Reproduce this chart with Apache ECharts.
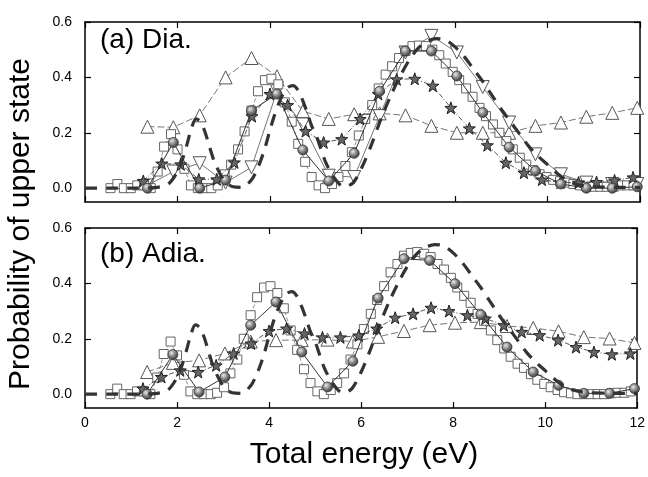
<!DOCTYPE html>
<html>
<head>
<meta charset="utf-8">
<script src="https://cdn.jsdelivr.net/npm/echarts@6/dist/echarts.min.js"></script>
<style>
html,body{margin:0;padding:0;background:#fff;}
#chart{width:648px;height:477px;}
</style>
</head>
<body>
<div id="chart"></div>
<script>
// ---------- data ----------
const xTicks = [0, 2, 4, 6, 8, 10, 12];
const yTicks = [0.0, 0.2, 0.4, 0.6];

// exact (dashed) curve, same in both panels
const energyDash = [0,0.5,1.0,1.5,1.8,2.0,2.1,2.2,2.3,2.4,2.5,2.6,2.7,2.8,3.0,3.2,3.4,3.6,3.7,3.8,3.9,4.0,4.1,4.2,4.3,4.4,4.5,4.6,4.7,4.8,4.9,5.0,5.2,5.4,5.6,5.8,6.0,6.2,6.4,6.6,6.8,7.0,7.2,7.4,7.6,7.8,8.0,8.2,8.4,8.6,8.8,9.0,9.2,9.4,9.6,9.8,10.0,10.2,10.4,10.6,10.8,11.0,11.5,12.0];
const probDash = [0,0,0,0.002,0.015,0.06,0.1,0.155,0.215,0.25,0.24,0.2,0.145,0.095,0.03,0.005,0.003,0.03,0.06,0.1,0.15,0.21,0.265,0.31,0.345,0.365,0.37,0.355,0.32,0.275,0.225,0.19,0.095,0.035,0.005,0.02,0.08,0.16,0.25,0.33,0.4,0.46,0.505,0.53,0.54,0.535,0.51,0.475,0.43,0.385,0.335,0.285,0.24,0.195,0.15,0.115,0.085,0.055,0.03,0.015,0.008,0.005,0.003,0.003];

// coarse grid (triangles, spheres)
const energyMid = [1.35,1.91,2.48,3.04,3.6,4.15,4.71,5.27,5.82,6.37,6.93,7.49,8.04,8.6,9.17,9.74,10.29,10.84,11.4,11.94];
const diaTriUp   = [0.222,0.22,0.263,0.40,0.47,0.404,0.278,0.25,0.267,0.27,0.263,0.225,0.2,0.2,0.2,0.225,0.237,0.258,0.272,0.29];
const diaTriDown = [0.01,0.06,0.09,0.02,0.075,0.35,0.23,0.045,0.04,0.26,0.49,0.55,0.49,0.365,0.237,0.122,0.05,0.02,0.015,0.015];
const diaSphere  = [0.0,0.165,0.0,0.029,0.28,0.34,0.138,0.026,0.126,0.35,0.495,0.495,0.405,0.273,0.148,0.062,0.015,0.0,0.0,0.005];
const adiaTriUp  = [0.08,0.113,0.122,0.147,0.19,0.195,0.195,0.197,0.19,0.207,0.228,0.249,0.258,0.26,0.246,0.239,0.227,0.206,0.201,0.185];
const adiaSphere = [0.0,0.143,0.008,0.062,0.249,0.333,0.152,0.026,0.119,0.347,0.489,0.483,0.399,0.287,0.17,0.08,0.032,0.003,0.003,0.02];

// star grid
const energyStar = [1.26,1.66,2.07,2.46,2.85,3.23,3.61,4.0,4.38,4.77,5.16,5.55,5.95,6.34,6.74,7.13,7.52,7.91,8.31,8.7,9.1,9.49,9.88,10.28,10.67,11.06,11.45,11.85];
const diaStar  = [0.026,0.089,0.086,0.032,0.032,0.093,0.26,0.34,0.30,0.206,0.165,0.177,0.25,0.34,0.393,0.395,0.37,0.29,0.216,0.155,0.092,0.056,0.031,0.02,0.02,0.022,0.028,0.039];
const adiaStar = [0.02,0.062,0.086,0.08,0.104,0.147,0.183,0.228,0.237,0.219,0.205,0.205,0.212,0.237,0.276,0.29,0.312,0.3,0.285,0.273,0.249,0.225,0.213,0.195,0.17,0.152,0.144,0.147];

// fine grid (squares)
const energySquare = [0.55,0.70,0.84,0.99,1.13,1.28,1.42,1.57,1.71,1.86,2.00,2.15,2.29,2.44,2.58,2.73,2.87,3.02,3.16,3.31,3.45,3.60,3.74,3.89,4.03,4.18,4.32,4.47,4.61,4.76,4.90,5.05,5.19,5.34,5.48,5.63,5.77,5.92,6.06,6.21,6.35,6.50,6.64,6.79,6.93,7.08,7.22,7.37,7.51,7.66,7.80,7.95,8.09,8.24,8.38,8.53,8.67,8.82,8.96,9.11,9.25,9.40,9.54,9.69,9.83,9.98,10.12,10.27,10.41,10.56,10.70,10.85,10.99,11.14,11.28,11.43,11.57,11.72,11.86];
const diaSquare = [0.0,0.015,0.0,0.0,0.01,0.01,0.0,0.06,0.15,0.195,0.14,0.07,0.01,0.0,0.0,0.0,0.01,0.05,0.085,0.14,0.205,0.28,0.35,0.39,0.395,0.375,0.31,0.24,0.16,0.095,0.04,0.01,0.0,0.015,0.04,0.08,0.13,0.19,0.25,0.3,0.36,0.41,0.44,0.47,0.495,0.513,0.515,0.513,0.5,0.48,0.45,0.42,0.39,0.36,0.33,0.29,0.26,0.23,0.2,0.17,0.14,0.11,0.085,0.065,0.05,0.04,0.03,0.025,0.02,0.015,0.01,0.005,0.005,0.005,0.005,0.005,0.01,0.01,0.01];
const adiaSquare = [0.0,0.02,0.0,0.0,0.01,0.01,0.0,0.06,0.145,0.19,0.14,0.07,0.01,0.0,0.0,0.0,0.005,0.025,0.075,0.125,0.2,0.285,0.35,0.385,0.39,0.365,0.31,0.23,0.16,0.09,0.04,0.01,0.0,0.015,0.04,0.075,0.125,0.18,0.235,0.29,0.34,0.39,0.44,0.47,0.5,0.51,0.513,0.507,0.495,0.47,0.45,0.42,0.385,0.355,0.33,0.29,0.265,0.23,0.195,0.165,0.135,0.11,0.095,0.072,0.052,0.037,0.025,0.015,0.007,0.003,0.0,0.0,0.0,0.0,0.0,0.003,0.005,0.005,0.01];

// ---------- helpers ----------
const zip = (xs, ys) => xs.map((x, i) => [x, ys[i]]);
const FONT = 'Liberation Sans';
const STAR = 'path://M0,-10 L2.35,-3.24 L9.51,-3.09 L3.8,1.24 L5.88,8.09 L0,4 L-5.88,8.09 L-3.8,1.24 L-9.51,-3.09 L-2.35,-3.24 Z';
const sphereColor = {type:'radial', x:0.38, y:0.35, r:0.7, colorStops:[{offset:0,color:'#e8e8e8'},{offset:0.55,color:'#777'},{offset:1,color:'#333'}]};

function panelSeries(g, triUp, triDown, sphere, star, square) {
  const xi = g * 2, yi = g * 2;
  const s = [];
  s.push({type:'line', xAxisIndex:xi, yAxisIndex:yi, data:zip(energyMid, triUp), symbol:'triangle', symbolSize:13,
    itemStyle:{color:'#fff', borderColor:'#555', borderWidth:1}, lineStyle:{color:'#666', width:0.9, type:[7,3]}, z:2, silent:true});
  if (triDown) s.push({type:'line', xAxisIndex:xi, yAxisIndex:yi, data:zip(energyMid, triDown), symbol:'triangle', symbolRotate:180, symbolSize:13,
    itemStyle:{color:'#fff', borderColor:'#555', borderWidth:1}, lineStyle:{color:'#666', width:0.9}, z:3, silent:true});
  s.push({type:'line', xAxisIndex:xi, yAxisIndex:yi, data:zip(energySquare, square), symbol:'rect', symbolSize:9,
    itemStyle:{color:'#fff', borderColor:'#666', borderWidth:1}, lineStyle:{color:'#777', width:0.8, type:[4,2]}, z:4, silent:true});
  s.push({type:'line', xAxisIndex:xi, yAxisIndex:yi, data:zip(energyStar, star), symbol:STAR, symbolSize:12,
    itemStyle:{color:'#666', borderColor:'#222', borderWidth:1}, lineStyle:{color:'#444', width:0.9, type:[5,2,1,2]}, z:5, silent:true});
  s.push({type:'line', xAxisIndex:xi, yAxisIndex:yi, data:zip(energyMid, sphere), symbol:'circle', symbolSize:10,
    itemStyle:{color:sphereColor, borderColor:'#333', borderWidth:0.8}, lineStyle:{color:'#333', width:1}, z:6, silent:true});
  s.push({type:'line', xAxisIndex:xi, yAxisIndex:yi, data:zip(energyDash, probDash), symbol:'none', smooth:0.3,
    lineStyle:{color:'#333', width:3.2, type:[12,9]}, z:7, silent:true});
  return s;
}

function xAxes(g, withLabels) {
  const base = {type:'value', gridIndex:g, min:xTicks[0], max:xTicks[xTicks.length-1], interval:2,
    splitLine:{show:false}, axisLine:{show:true, onZero:false, lineStyle:{color:'#000', width:1.5}},
    axisTick:{show:true, inside:true, length:6, lineStyle:{color:'#000', width:1.2}}};
  return [
    Object.assign({}, base, {position:'bottom', axisLabel:{show:withLabels, margin:8, fontFamily:FONT, fontSize:14, color:'#000', customValues:xTicks}}),
    Object.assign({}, base, {position:'top', axisLabel:{show:false}})
  ];
}
function yAxes(g) {
  const base = {type:'value', gridIndex:g, min:-0.05, max:0.6,
    splitLine:{show:false}, axisLine:{show:true, onZero:false, lineStyle:{color:'#000', width:1.5}},
    axisTick:{show:true, inside:true, length:6, customValues:yTicks, lineStyle:{color:'#000', width:1.2}}};
  return [
    Object.assign({}, base, {position:'left', axisLabel:{show:true, customValues:yTicks, margin:13, fontFamily:FONT, fontSize:14, color:'#000', formatter:v => v.toFixed(1)}}),
    Object.assign({}, base, {position:'right', axisLabel:{show:false}})
  ];
}

const chart = echarts.init(document.getElementById('chart'), null, {renderer:'canvas'});
chart.setOption({
  backgroundColor:'#fff',
  animation:false,
  grid:[
    {left:85, right:8, top:22, height:180},
    {left:85, right:8, top:228, height:180}
  ],
  xAxis:[].concat(xAxes(0,false), xAxes(1,true)),
  yAxis:[].concat(yAxes(0), yAxes(1)),
  series:[].concat(
    panelSeries(0, diaTriUp, diaTriDown, diaSphere, diaStar, diaSquare),
    panelSeries(1, adiaTriUp, null, adiaSphere, adiaStar, adiaSquare)
  ),
  graphic:[
    {type:'text', left:100, top:26, style:{text:'(a) Dia.', font:'28px "Liberation Sans"', fill:'#000'}},
    {type:'text', left:100, top:240, style:{text:'(b) Adia.', font:'28px "Liberation Sans"', fill:'#000'}},
    {type:'text', x:21, y:224, rotation:Math.PI/2, style:{text:'Probability of upper state', font:'30px "Liberation Sans"', fill:'#000', align:'center', verticalAlign:'middle'}},
    {type:'text', x:364, y:455, style:{text:'Total energy (eV)', font:'30px "Liberation Sans"', fill:'#000', align:'center', verticalAlign:'middle'}}
  ]
});
</script>
</body>
</html>
